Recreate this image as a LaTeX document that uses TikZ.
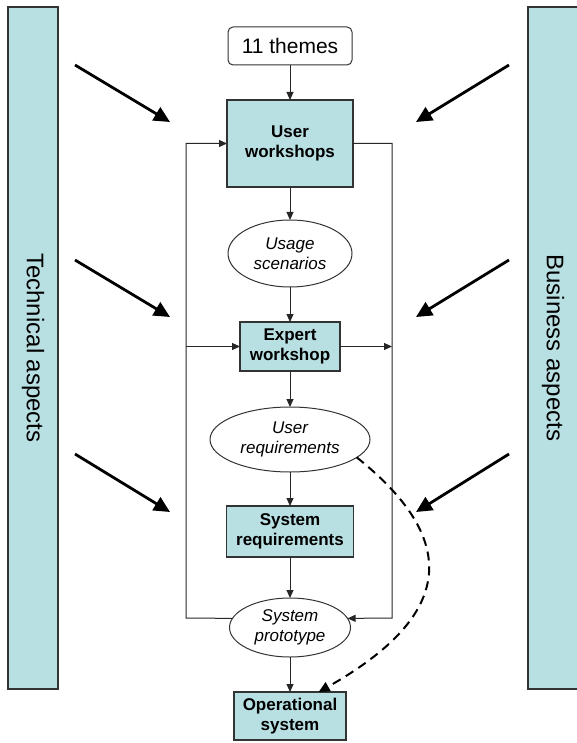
\documentclass[tikz,border=0pt]{standalone}
\usepackage{fontspec}
\setmainfont{Liberation Sans}
\usetikzlibrary{arrows.meta,shapes,positioning}
\definecolor{sidefill}{RGB}{184,223,226}

\begin{document}
\begin{tikzpicture}[x=1pt,y=1pt, node distance = 35pt]
	  \tikzstyle{stage}=[rectangle,draw=black!80,line width=1.2pt,fill=sidefill,inner sep=0pt,outer sep=0pt,
				  align=center,font=\fontsize{17}{20}\selectfont\bfseries]
	  \tikzstyle{outcome}=[ellipse,draw=black!80,line width=1pt,fill=white,inner sep=0pt,outer sep=0pt,
				  align=center,font=\fontsize{17}{20}\selectfont\itshape]
	  \tikzstyle{side}=[rectangle,draw=black!80,line width=1.2pt,fill=sidefill,rotate=-90,
				  minimum width=682pt,font=\fontsize{24}{27}\selectfont]
	  \tikzstyle{flow}=[line width=1pt,draw=black!85,-{Triangle[length=8pt,width=7pt]}]
	  \tikzstyle{push}=[line width=2.8pt,-{Triangle[length=16pt,width=15pt]}]

	\useasboundingbox (0,0) rectangle (576,-743);

	\node (tech) [side,minimum height=50pt] at (33,-348) {Technical aspects};
	\node (business) [side,minimum height=50pt] at (553,-348) {Business aspects};

	\node (themes) [rectangle,rounded corners=5pt,draw=black!80,line width=1pt,outer sep=0pt,
		minimum width=124pt,minimum height=38pt,font=\fontsize{21}{24}\selectfont] at (290,-46) {11 themes};
	\node (user_ws) [stage,minimum width=126pt,minimum height=87pt] [below=35pt of themes] {User\\workshops};
	\node (usage) [outcome,minimum width=124pt,minimum height=67pt] [below=33pt of user_ws] {Usage\\scenarios};
	\node (expert) [stage,minimum width=100pt,minimum height=49pt] [below=35pt of usage] {Expert\\workshop};
	\node (user_req) [outcome,minimum width=160pt,minimum height=65pt] [below=36pt of expert] {User\\requirements};
	\node (sys_req) [stage,minimum width=127pt,minimum height=51pt] [below=34pt of user_req] {System\\requirements};
	\node (proto) [outcome,minimum width=121pt,minimum height=59pt] [below=41pt of sys_req] {System\\prototype};
	\node (oper) [stage,minimum width=112pt,minimum height=48pt] [below=35pt of proto] {Operational\\system};

	\coordinate (loop_left) at (186,-618);
	\coordinate (loop_right) at (392,-618);

	\draw[flow] (themes) -- (user_ws);
	\draw[flow] (user_ws) -- (usage);
	\draw[flow] (usage) -- (expert);
	\draw[flow] (expert) -- (user_req);
	\draw[flow] (user_req) -- (sys_req);
	\draw[flow] (sys_req) -- (proto);
	\draw[flow] (proto) -- (oper);

	\draw[flow] (proto.171) -- (loop_left) |- (user_ws.west);
	\draw[flow] (user_ws.east) -| (loop_right) -- (proto.9);
	\draw[flow] (loop_left |- expert) -- (expert.west);
	\draw[flow] (expert.east) -- (loop_right |- expert);

	\draw[line width=2pt,dash pattern=on 9pt off 6pt,-{Triangle[length=11pt,width=10pt]}]
		(user_req.-15) .. controls (460,-540) and (455,-615) .. (oper.40);

	\foreach \from/\to/\lvl in {65/122/top,260/317/mid,454/512/low}
	{
		\coordinate (tech_\lvl) at (75,-\from);
		\coordinate (tech_\lvl_end) at (170,-\to);
		\coordinate (business_\lvl) at (509,-\from);
		\coordinate (business_\lvl_end) at (416,-\to);
		\draw[push] (tech_\lvl) -- (tech_\lvl_end);
		\draw[push] (business_\lvl) -- (business_\lvl_end);
	}
\end{tikzpicture}
\end{document}
